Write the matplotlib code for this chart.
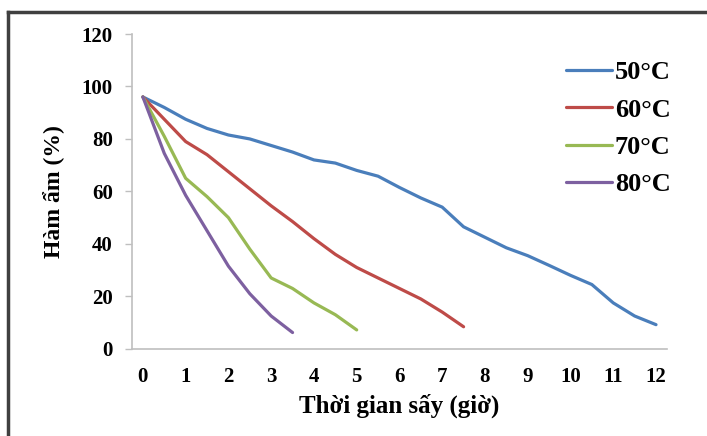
import numpy as np
import matplotlib.pyplot as plt
from matplotlib.lines import Line2D

# drying time (hours), half-hour readings
t50 = [0, 0.5, 1, 1.5, 2, 2.5, 3, 3.5, 4, 4.5, 5, 5.5, 6, 6.5, 7, 7.5, 8, 8.5, 9, 9.5, 10, 10.5, 11, 11.5, 12]
t60 = [0, 0.5, 1, 1.5, 2, 2.5, 3, 3.5, 4, 4.5, 5, 5.5, 6, 6.5, 7, 7.5]
t70 = [0, 0.5, 1, 1.5, 2, 2.5, 3, 3.5, 4, 4.5, 5]
t80 = [0, 0.5, 1, 1.5, 2, 2.5, 3, 3.5]

# moisture content (%)
m50 = [96, 92, 87.5, 84, 81.5, 80, 77.5, 75, 72, 70.8, 68, 65.8, 61.5, 57.5, 54,
       46.5, 42.5, 38.5, 35.5, 31.8, 28, 24.5, 17.5, 12.5, 9.2]
m60 = [96, 87.5, 79, 74, 67.5, 61, 54.5, 48.5, 42, 36, 31, 27, 23, 19, 14, 8.4]
m70 = [96, 81, 65, 58, 50, 38, 27, 23, 17.5, 13, 7.2]
m80 = [96, 74.5, 58.5, 45, 31.5, 21, 12.5, 6.2]

labels = ["50°C", "60°C", "70°C", "80°C"]
colors = ["#4A7EBB", "#BE4B48", "#98B954", "#7D60A0"]
xticks = list(range(0, 13))
yticks = [0, 20, 40, 60, 80, 100, 120]

plt.rcParams['font.family'] = ['Liberation Serif', 'DejaVu Serif']
plt.rcParams['font.weight'] = 'bold'

fig = plt.figure(figsize=(7.07, 4.36), dpi=100)
ax = fig.add_axes([0.187, 0.2, 0.756, 0.722])

for t, m, lab, c in zip([t50, t60, t70, t80], [m50, m60, m70, m80], labels, colors):
    ax.plot(t, m, color=c, lw=2.3, label=lab, solid_capstyle='round')

ax.set_xlim(-0.25, 12.25)
ax.set_ylim(0, 120)
ax.set_xticks(xticks)
ax.set_yticks(yticks)
ax.tick_params(axis='x', length=0, pad=13, labelsize=15)
ax.tick_params(axis='y', length=5, width=1, color='#BFBFBF', pad=9, labelsize=15)
for s in ['top', 'right']:
    ax.spines[s].set_visible(False)
for s in ['left', 'bottom']:
    ax.spines[s].set_color('#BFBFBF')
    ax.spines[s].set_linewidth(1.2)

ax.set_xlabel("Thời gian sấy (giờ)", fontsize=18, fontweight='bold', labelpad=5)
ax.set_ylabel("Hàm ẩm (%)", fontsize=17, fontweight='bold', labelpad=12)

ax.legend(loc='upper right', bbox_to_anchor=(1.052, 0.99), frameon=False,
          fontsize=19, handlelength=1.75, handletextpad=0.1, labelspacing=0.52)

# dark frame around the picture (top and left edges visible)
fig.add_artist(Line2D([0.0113, 1.0], [0.9725, 0.9725], color='#404040', lw=2.5))
fig.add_artist(Line2D([0.0113, 0.0113], [0.0, 0.9725], color='#404040', lw=2.5))

fig.savefig("out.png", dpi=100)
